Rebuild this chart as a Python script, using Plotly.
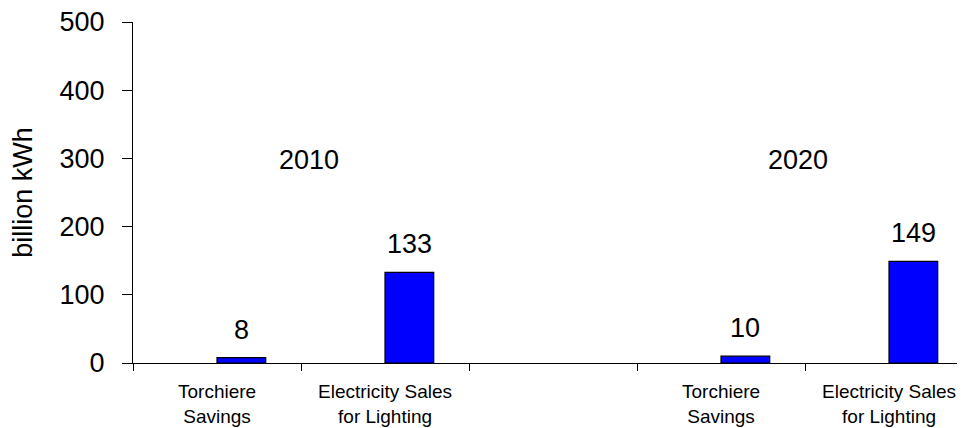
import plotly.graph_objects as go

# ---- data ----
years = ["2010", "2020"]
categories = ["Torchiere<br>Savings", "Electricity Sales<br>for Lighting"]
values_2010 = [8, 133]
values_2020 = [10, 149]
y_ticks = [0, 100, 200, 300, 400, 500]
y_title = "billion kWh"

FONT = "Liberation Sans, Arial, sans-serif"
BIG = 27
series = [values_2010, values_2020]

xs, ys, labels = [], [], []
for g, vals in enumerate(series):
    for i, v in enumerate(vals):
        xs.append(g * 3 + i)
        ys.append(v)
        labels.append(categories[i])

fig = go.Figure()
fig.add_trace(go.Bar(
    x=xs, y=ys, width=0.29, offset=0,
    marker=dict(color="#0000FF", line=dict(color="black", width=1.2)),
    hoverinfo="skip",
))

annotations = []
for x, y in zip(xs, ys):
    annotations.append(dict(x=x + 0.145, y=y, xref="x", yref="y", text=str(y),
                            showarrow=False, yanchor="bottom", yshift=11,
                            font=dict(size=BIG, family=FONT, color="black")))
for x, lab in zip(xs, labels):
    annotations.append(dict(x=x, y=0, xref="x", yref="paper", text=lab,
                            showarrow=False, yanchor="top", yshift=-16,
                            font=dict(size=19, family=FONT, color="black")))
year_label_x = [0.545, 3.46]
for yr, xp in zip(years, year_label_x):
    annotations.append(dict(x=xp, y=297, xref="x", yref="y", text=yr,
                            showarrow=False, yanchor="middle",
                            font=dict(size=BIG, family=FONT, color="black")))

fig.update_layout(
    width=965, height=428,
    margin=dict(l=125, r=0, t=14, b=73),
    paper_bgcolor="white", plot_bgcolor="white",
    showlegend=False,
    font=dict(family=FONT, color="black"),
    annotations=annotations,
    xaxis=dict(
        range=[-0.5, 4.5],
        tickvals=[], showgrid=False, zeroline=False,
        showline=True, linecolor="black", linewidth=1,
        minor=dict(ticks="outside", ticklen=7, tickcolor="black",
                   tick0=-0.5, dtick=1, showgrid=False),
    ),
    yaxis=dict(
        range=[0, 500], tickvals=y_ticks,
        ticks="outside", ticklen=10, tickcolor="black",
        ticklabelstandoff=12, ticklabeloverflow="allow",
        showgrid=False, zeroline=False,
        showline=True, linecolor="black", linewidth=1,
        tickfont=dict(size=BIG, family=FONT, color="black"),
        title=dict(text=y_title, font=dict(size=BIG, family=FONT, color="black"), standoff=20),
    ),
)

fig.write_html("out.html")
